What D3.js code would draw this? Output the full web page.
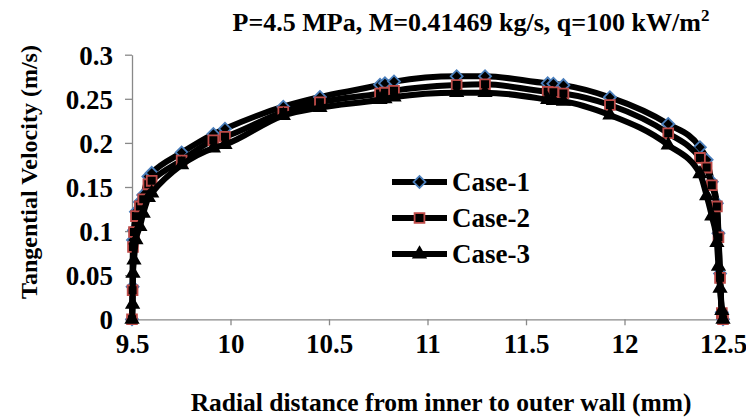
<!DOCTYPE html>
<html>
<head>
<meta charset="utf-8">
<script src="https://cdn.jsdelivr.net/npm/d3@7"></script>
<style>
    body { margin: 0; background: #fff; }
    svg text { font-family: "Liberation Serif", "Times New Roman", serif; font-weight: bold; fill: #000; }
</style>
</head>
<body>
<div id="chart"></div>
<script>
// radial position (mm) and tangential velocity (m/s)
const radialDistance = [9.5, 9.503, 9.505, 9.51, 9.52, 9.54, 9.557, 9.583, 9.6, 9.752, 9.913, 9.972,
    10.268, 10.454, 10.759, 10.784, 10.83, 11.148, 11.292, 11.61, 11.639, 11.69, 11.926, 12.222,
    12.383, 12.417, 12.443, 12.469, 12.477, 12.485, 12.494, 12.5];

const case1Velocity = [0, 0.037, 0.09, 0.101, 0.122, 0.133, 0.141, 0.162, 0.166, 0.189, 0.21, 0.216,
    0.241, 0.252, 0.266, 0.2675, 0.2695, 0.2755, 0.2755, 0.2675, 0.267, 0.2655, 0.2517, 0.2214,
    0.195, 0.181, 0.156, 0.1315, 0.0975, 0.052, 0.008, 0];

const case2Velocity = [0, 0.033, 0.082, 0.099, 0.117, 0.128, 0.136, 0.153, 0.157, 0.18, 0.203, 0.207,
    0.235, 0.246, 0.256, 0.257, 0.259, 0.2656, 0.2665, 0.258, 0.2575, 0.256, 0.243, 0.211,
    0.183, 0.172, 0.152, 0.128, 0.093, 0.047, 0.007, 0];

const case3Velocity = [0, 0.017, 0.052, 0.067, 0.09, 0.105, 0.12, 0.138, 0.143, 0.175, 0.194, 0.198,
    0.231, 0.24, 0.249, 0.25, 0.252, 0.257, 0.257, 0.249, 0.248, 0.247, 0.2316, 0.1976,
    0.165, 0.14, 0.117, 0.087, 0.06, 0.035, 0.01, 0];

const seriesNames = ["Case-1", "Case-2", "Case-3"];
const xTicks = [9.5, 10, 10.5, 11, 11.5, 12, 12.5];
const yTicks = [0, 0.05, 0.1, 0.15, 0.2, 0.25, 0.3];

const chartTitle = "P=4.5 MPa, M=0.41469 kg/s, q=100 kW/m";
const xTitle = "Radial distance from inner to outer wall (mm)";
const yTitle = "Tangential Velocity (m/s)";

const width = 746, height = 417;
const tickFont = 27;

const svg = d3.select("#chart").append("svg")
    .attr("width", width)
    .attr("height", height);

const x = d3.scaleLinear().domain([9.5, 12.5]).range([132, 723]);
const y = d3.scaleLinear().domain([0, 0.3]).range([319.3, 54.7]);

// marker look for each case
const styles = [
    {symbol: d3.symbolSquare, size: 72, rotate: 45, stroke: "#4a7ebb"},
    {symbol: d3.symbolSquare, size: 96, rotate: 0, stroke: "#be4b48"},
    {symbol: d3.symbolTriangle, size: 64, rotate: 0, stroke: "#000"}
];

const series = [case1Velocity, case2Velocity, case3Velocity].map(function(vals, i) {
    return {name: seriesNames[i], style: styles[i], points: radialDistance.map((r, j) => [r, vals[j]])};
});

// axes
const xAxis = svg.append("g")
    .attr("transform", "translate(0," + y(0) + ")")
    .call(d3.axisBottom(x).tickValues(xTicks).tickSize(6).tickSizeOuter(0).tickFormat(d => String(d)));

const yAxis = svg.append("g")
    .attr("transform", "translate(" + x(9.5) + ",0)")
    .call(d3.axisLeft(y).tickValues(yTicks).tickSize(7).tickSizeOuter(0).tickPadding(12).tickFormat(d => String(d)));

[xAxis, yAxis].forEach(function(g) {
    g.select(".domain").attr("stroke", "#898989").attr("stroke-width", 1.3);
    g.selectAll(".tick line").attr("stroke", "#898989").attr("stroke-width", 1.3);
    g.selectAll("text").attr("font-size", tickFont).attr("font-family", null);
});

xAxis.selectAll(".tick text").attr("y", 34).attr("dy", null);
yAxis.selectAll(".tick text").attr("dy", "0.35em");

// lines + markers, in series order
const line = d3.line().x(d => x(d[0])).y(d => y(d[1])).curve(d3.curveMonotoneX);

function markerPath(style) {
    return d3.symbol().type(style.symbol).size(style.size)();
}

series.forEach(function(s) {
    const g = svg.append("g");

    g.append("path")
        .datum(s.points)
        .attr("d", line)
        .attr("fill", "none")
        .attr("stroke", "#000")
        .attr("stroke-width", 6)
        .attr("stroke-linejoin", "round");

    g.selectAll(".marker")
        .data(s.points)
        .enter()
        .append("path")
        .attr("class", "marker")
        .attr("d", markerPath(s.style))
        .attr("transform", d => "translate(" + x(d[0]) + "," + y(d[1]) + ") rotate(" + s.style.rotate + ")")
        .attr("fill", "#000")
        .attr("stroke", s.style.stroke)
        .attr("stroke-width", 1.8);
});

// legend
const legend = svg.append("g").attr("transform", "translate(392,182)");

const rows = legend.selectAll(".row")
    .data(series)
    .enter()
    .append("g")
    .attr("transform", (d, i) => "translate(0," + i * 36 + ")");

rows.append("line")
    .attr("x1", 0).attr("x2", 55)
    .attr("stroke", "#000")
    .attr("stroke-width", 6);

rows.append("path")
    .attr("d", d => markerPath(d.style))
    .attr("transform", d => "translate(27.5,0) rotate(" + d.style.rotate + ")")
    .attr("fill", "#000")
    .attr("stroke", d => d.style.stroke)
    .attr("stroke-width", 1.8);

rows.append("text")
    .attr("x", 60)
    .attr("dy", "0.35em")
    .attr("font-size", tickFont)
    .text(d => d.name);

// titles
const title = svg.append("text")
    .attr("x", 471)
    .attr("y", 31)
    .attr("text-anchor", "middle")
    .attr("font-size", 26)
    .text(chartTitle);

title.append("tspan")
    .attr("dy", -10)
    .attr("font-size", 17)
    .text("2");

svg.append("text")
    .attr("x", 441)
    .attr("y", 411)
    .attr("text-anchor", "middle")
    .attr("font-size", 25.5)
    .text(xTitle);

svg.append("text")
    .attr("transform", "translate(37,172) rotate(-90)")
    .attr("text-anchor", "middle")
    .attr("font-size", 24)
    .text(yTitle);
</script>
</body>
</html>
